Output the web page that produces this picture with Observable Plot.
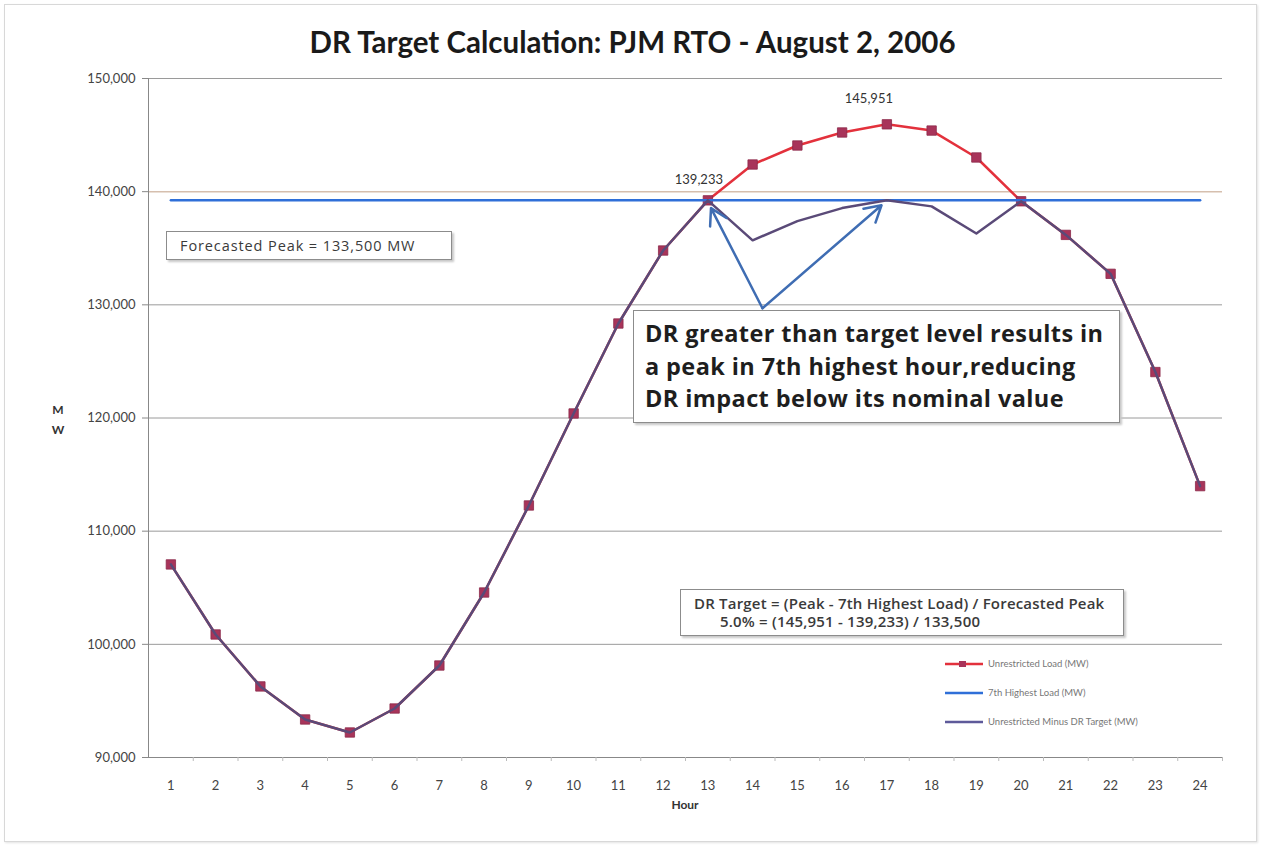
<!DOCTYPE html>
<html>
<head>
<meta charset="utf-8">
<script src="https://cdn.jsdelivr.net/npm/d3@7"></script>
<script src="https://cdn.jsdelivr.net/npm/@observablehq/plot@0.6"></script>
<style>
  html, body { margin: 0; padding: 0; background: #fff; }
  #wrap { position: relative; width: 1265px; height: 846px; font-family: Lato, "Liberation Sans", sans-serif; overflow: hidden; }
  #frame { position: absolute; left: 4px; top: 4px; width: 1251px; height: 836px; border: 1px solid #d8d8d8; box-shadow: 1px 1px 2px #e4e4e4; }
  #title { position: absolute; left: 0; top: 0; width: 1265px; height: 62px; text-align: center; font-weight: 700; font-size: 29.5px; line-height: 30px; padding-top: 29px; box-sizing: border-box; color: #1a1a1a; }
  #title span { position: relative; top: -2px; }
  #chart { position: absolute; left: 0; top: 62px; }
  .box { position: absolute; background: #fff; border: 1px solid #8c8c8c; box-shadow: 2px 2px 2px #c8c8c8; box-sizing: border-box; color: #333; }
  #fbox { left: 166px; top: 231px; width: 286px; height: 29px; font-family: "Open Sans", sans-serif; font-size: 14.5px; line-height: 27px; padding-left: 13px; letter-spacing: 0.9px; color: #3a3a3a; }
  #bbox { left: 633px; top: 310px; width: 487px; height: 113px; font-family: "Open Sans", sans-serif; font-size: 23.5px; font-weight: 700; line-height: 32.5px; padding: 6px 0 0 11px; letter-spacing: 0.4px; color: #1e1e1e; white-space: nowrap; }
  #dbox { left: 680px; top: 589px; width: 444px; height: 47px; font-family: "Open Sans", sans-serif; font-size: 15px; font-weight: 600; line-height: 18px; padding: 4px 0 0 13px; letter-spacing: 0.2px; color: #3a3a3a; white-space: nowrap; }
  #legend { position: absolute; left: 945px; top: 649px; font-size: 9.5px; color: #777; }
  #legend .row { height: 29px; display: flex; align-items: center; }
  #legend svg { margin-right: 5px; }
  #mw { position: absolute; left: 50px; top: 400px; font-size: 12px; font-weight: 700; line-height: 20px; color: #333; text-align: center; width: 16px; }
  #hour { position: absolute; left: 0; top: 797px; width: 1370px; text-align: center; font-size: 12px; font-weight: 700; color: #333; }
</style>
</head>
<body>
<div id="wrap">
  <div id="frame"></div>
  <div id="chart"></div>
  <div id="title"><span>DR Target Calculation: PJM RTO - August 2, 2006</span></div>
  <div id="fbox" class="box">Forecasted Peak = 133,500 MW</div>
  <div id="bbox" class="box">DR greater than target level results in<br>a peak in 7th highest hour,reducing<br>DR impact below its nominal value</div>
  <div id="dbox" class="box">DR Target = (Peak - 7th Highest Load) / Forecasted Peak<br><span style="padding-left:26px">5.0% = (145,951 - 139,233) / 133,500</span></div>
  <div id="legend"></div>
  <div id="mw">M<br>W</div>
  <div id="hour">Hour</div>
</div>
<script>
// ---- data ----
const hours = [1,2,3,4,5,6,7,8,9,10,11,12,13,14,15,16,17,18,19,20,21,22,23,24];
const unrestrictedLoad = [107060,100870,96280,93360,92210,94330,98130,104580,112270,120400,128350,134800,139233,142400,144080,145230,145951,145400,143020,139150,136180,132740,124060,113980];
const seventhHighest = [139233,139233,139233,139233,139233,139233,139233,139233,139233,139233,139233,139233,139233,139233,139233,139233,139233,139233,139233,139233,139233,139233,139233,139233];
const minusDRTarget = [107060,100870,96280,93360,92210,94330,98130,104580,112270,120400,128350,134800,139233,135700,137400,138550,139233,138700,136300,139150,136180,132740,124060,113980];
const yTicks = [90000,100000,110000,120000,130000,140000,150000];
const seriesNames = ["Unrestricted Load (MW)", "7th Highest Load (MW)", "Unrestricted Minus DR Target (MW)"];
const valueLabels = [{hour: 17, value: 145951, text: "145,951"}, {hour: 13, value: 139233, text: "139,233"}];
const arrowsData = [
  {x1: 14.22, y1: 129700, x2: 13.07, y2: 138550},
  {x1: 14.22, y1: 129700, x2: 16.88, y2: 138800}
];

const colors = {red: "#e3313c", blue: "#2f6fd8", purple: "#5a4a78", marker: "#a8345a", arrow: "#3f6db3"};

const rows = hours.map((h, i) => ({hour: h, load: unrestrictedLoad[i], seventh: seventhHighest[i], minus: minusDRTarget[i]}));
const fmt = d3.format(",");

const chart = Plot.plot({
  width: 1265,
  height: 784,
  marginLeft: 148,
  marginRight: 43,
  marginTop: 16,
  marginBottom: 89,
  style: {fontFamily: "Lato, 'Liberation Sans', sans-serif", fontSize: "13px", color: "#444", background: "transparent"},
  x: {type: "linear", domain: [0.5, 24.5], axis: null},
  y: {type: "linear", domain: [90000, 150000], axis: null},
  marks: [
    Plot.ruleY(yTicks.filter(d => d !== 140000 && d !== 90000), {stroke: "#9a9a9a", strokeWidth: 1}),
    Plot.ruleY([140000], {stroke: "#d6bfae", strokeWidth: 1.5}),
    Plot.axisY({ticks: yTicks, tickFormat: fmt, tickSize: 6, tickPadding: 7, stroke: "#888", fill: "#444", fontSize: 13, label: null}),
    Plot.ruleX([0.5], {stroke: "#888"}),
    Plot.ruleY([90000], {stroke: "#888"}),
    Plot.ruleX(hours.map(h => h + 0.5), {y1: 90000, y2: 90000, insetBottom: -4, stroke: "#bbb"}),
    Plot.axisX({ticks: hours, tickSize: 0, tickPadding: 23, fontSize: 13, fill: "#444", label: null, tickFormat: d => d}),
    Plot.lineY(rows, {x: "hour", y: "load", stroke: colors.red, strokeWidth: 2.5}),
    Plot.dot(rows, {x: "hour", y: "load", symbol: "square", r: 5.3, fill: colors.marker, stroke: "#8c2a4a", strokeWidth: 0.8}),
    Plot.lineY(rows, {x: "hour", y: "seventh", stroke: colors.blue, strokeWidth: 2.5}),
    Plot.lineY(rows, {x: "hour", y: "minus", stroke: colors.purple, strokeWidth: 2.5}),
    Plot.arrow(arrowsData, {x1: "x1", y1: "y1", x2: "x2", y2: "y2", stroke: colors.arrow, strokeWidth: 2.5, headLength: 11, bend: 0}),
    Plot.text(valueLabels.slice(0,1), {x: "hour", y: "value", text: "text", dx: -18, dy: -25, fontSize: 13, fill: "#333"}),
    Plot.text(valueLabels.slice(1), {x: "hour", y: "value", text: "text", dx: -9, dy: -21, fontSize: 13, fill: "#333"})
  ]
});
document.getElementById("chart").appendChild(chart);

// legend
const legendColors = [colors.red, colors.blue, "#5e5a9a"];
const leg = document.getElementById("legend");
seriesNames.forEach((name, i) => {
  const row = document.createElement("div");
  row.className = "row";
  const marker = i === 0 ? '<rect x="14" y="2" width="7" height="6" fill="' + colors.marker + '"/>' : "";
  row.innerHTML = '<svg width="38" height="10"><line x1="0" y1="5" x2="38" y2="5" stroke="' + legendColors[i] + '" stroke-width="2.5"/>' + marker + '</svg><span>' + name + '</span>';
  leg.appendChild(row);
});
</script>
</body>
</html>
